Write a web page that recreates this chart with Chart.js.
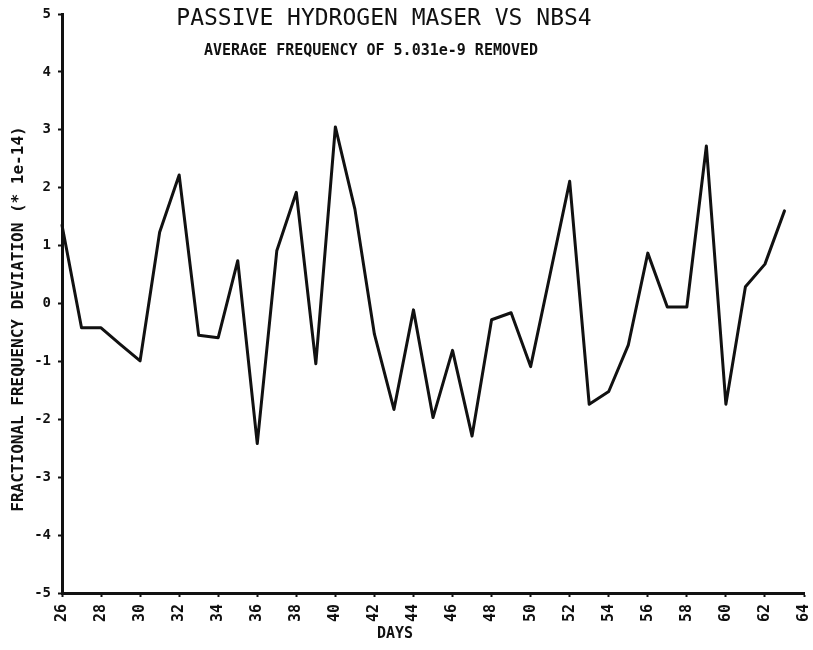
<!DOCTYPE html>
<html>
<head>
<meta charset="utf-8">
<script src="https://cdn.jsdelivr.net/npm/chart.js@4.4.0/dist/chart.umd.min.js"></script>
<style>
  html, body { margin: 0; padding: 0; background: #fff; }
  #wrap { width: 813px; height: 650px; position: relative; }
</style>
</head>
<body>
<div id="wrap"><canvas id="myChart"></canvas></div>
<script>
const days = [26, 27, 28, 29, 30, 31, 32, 33, 34, 35, 36, 37, 38, 39, 40, 41, 42, 43, 44,
              45, 46, 47, 48, 49, 50, 51, 52, 53, 54, 55, 56, 57, 58, 59, 60, 61, 62, 63];
const deviation = [1.35, -0.42, -0.42, -0.71, -0.99, 1.23, 2.22, -0.55, -0.59, 0.74, -2.42, 0.91,
                   1.92, -1.04, 3.05, 1.63, -0.53, -1.83, -0.11, -1.97, -0.81, -2.29, -0.28, -0.16,
                   -1.09, 0.51, 2.11, -1.74, -1.52, -0.72, 0.87, -0.06, -0.06, 2.72, -1.74, 0.29,
                   0.68, 1.60];
const titleText = 'PASSIVE HYDROGEN MASER VS NBS4';
const subtitleText = 'AVERAGE FREQUENCY OF 5.031e-9 REMOVED';
const yTitle = 'FRACTIONAL FREQUENCY DEVIATION (* 1e-14)';
const xTitle = 'DAYS';

const mono = '"DejaVu Sans Mono", monospace';

const textPlugin = {
    id: 'plotterText',
    afterDraw(chart) {
        const c = chart.ctx;
        c.save();
        c.fillStyle = '#111';
        c.textAlign = 'center';
        c.textBaseline = 'middle';
        c.font = '23px ' + mono;
        c.fillText(titleText, 384, 19);
        c.font = 'bold 15px ' + mono;
        c.fillText(subtitleText, 371, 51);
        c.fillText(xTitle, 395, 634);
        c.translate(19, 319);
        c.rotate(-Math.PI / 2);
        c.font = 'bold 16px ' + mono;
        c.fillText(yTitle, 0, 0);
        c.restore();
    }
};

const ctx = document.getElementById('myChart').getContext('2d');
const myChart = new Chart(ctx, {
    type: 'line',
    data: {
        datasets: [{
            label: 'Deviation',
            data: days.map((d, i) => ({ x: d, y: deviation[i] })),
            borderColor: '#111',
            borderWidth: 3,
            borderJoinStyle: 'round',
            borderCapStyle: 'round',
            pointRadius: 0,
            fill: false,
            tension: 0,
            clip: false
        }]
    },
    options: {
        responsive: true,
        maintainAspectRatio: false,
        animation: false,
        layout: { padding: { top: 14, right: 9, left: 0, bottom: 0 } },
        plugins: {
            legend: { display: false },
            title: { display: false },
            tooltip: { enabled: false }
        },
        scales: {
            x: {
                type: 'linear',
                min: 26,
                max: 64,
                afterFit(scale) {
                    scale.height = 57;
                    scale.paddingLeft = 0;
                    scale.paddingRight = 0;
                },
                border: { display: true, color: '#111', width: 3 },
                grid: { drawOnChartArea: false, color: '#111', tickLength: 4, tickWidth: 2 },
                ticks: {
                    stepSize: 2,
                    autoSkip: false,
                    maxRotation: 90,
                    minRotation: 90,
                    padding: 7,
                    color: '#111',
                    font: { family: mono, size: 15, weight: 'bold' }
                }
            },
            y: {
                min: -5,
                max: 5,
                afterFit(scale) {
                    scale.width = 62;
                    scale.paddingTop = 0;
                    scale.paddingBottom = 0;
                },
                border: { display: true, color: '#111', width: 3 },
                grid: { drawOnChartArea: false, color: '#111', tickLength: 4, tickWidth: 2 },
                ticks: {
                    stepSize: 1,
                    padding: 7,
                    color: '#111',
                    font: { family: mono, size: 14, weight: 'bold' }
                }
            }
        }
    },
    plugins: [textPlugin]
});
</script>
</body>
</html>
